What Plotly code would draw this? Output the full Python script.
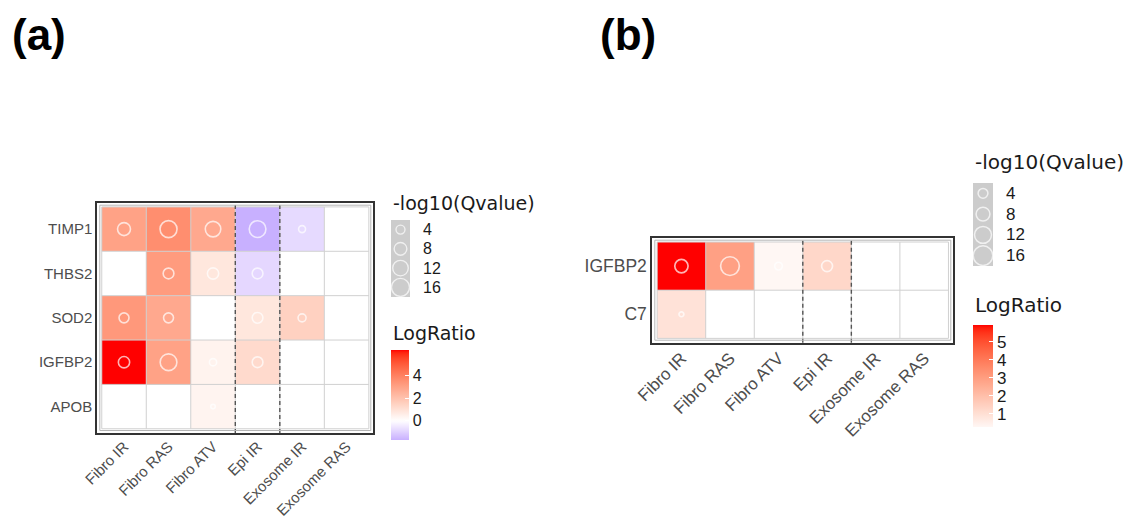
import math
import plotly.graph_objects as go

# ---------------- data ----------------
conditions = ["Fibro IR", "Fibro RAS", "Fibro ATV", "Epi IR", "Exosome IR", "Exosome RAS"]

genes_a = ["TIMP1", "THBS2", "SOD2", "IGFBP2", "APOB"]
nan = float("nan")
logratio_a = [
    [3.0, 3.6, 2.8, -1.7, -0.8, nan],
    [nan, 3.2, 0.8, -0.85, nan, nan],
    [3.3, 2.8, nan, 0.8, 1.5, nan],
    [6.25, 3.0, 0.4, 1.2, nan, nan],
    [nan, nan, 0.35, nan, nan, nan],
]
qval_a = [
    [8.3, 14.3, 11.9, 13.8, 2.4, nan],
    [nan, 5.7, 6.3, 5.7, nan, nan],
    [4.9, 4.9, nan, 5.7, 3.2, nan],
    [6.3, 13.8, 2.6, 5.7, nan, nan],
    [nan, nan, 1.0, nan, nan, nan],
]

genes_b = ["IGFBP2", "C7"]
logratio_b = [
    [5.94, 2.9, 0.25, 1.25, nan, nan],
    [0.9, nan, nan, nan, nan, nan],
]
qval_b = [
    [7.4, 14.6, 2.5, 5.0, nan, nan],
    [1.0, nan, nan, nan, nan, nan],
]

size_legend_vals = [4, 8, 12, 16]
ticks_a = [0, 2, 4]
ticks_b = [1, 2, 3, 4, 5]
dashed_after = [2, 3]  # dashed separators after these column indices

# ---------------- colour helpers (Lab interpolation like ggplot) ----------------
def hex2rgb(h):
    h = h.lstrip("#")
    return [int(h[i:i + 2], 16) for i in (0, 2, 4)]

def rgb2lab(rgb):
    def lin(c):
        c = c / 255.0
        return c / 12.92 if c <= 0.04045 else ((c + 0.055) / 1.055) ** 2.4
    r, g, b = [lin(c) for c in rgb]
    X = (0.4124 * r + 0.3576 * g + 0.1805 * b) / 0.95047
    Y = (0.2126 * r + 0.7152 * g + 0.0722 * b)
    Z = (0.0193 * r + 0.1192 * g + 0.9505 * b) / 1.08883
    f = lambda t: t ** (1 / 3) if t > 0.008856 else 7.787 * t + 16 / 116
    fx, fy, fz = f(X), f(Y), f(Z)
    return (116 * fy - 16, 500 * (fx - fy), 200 * (fy - fz))

def lab2hex(lab):
    L, a, b = lab
    fy = (L + 16) / 116
    fx = fy + a / 500
    fz = fy - b / 200
    finv = lambda t: t ** 3 if t ** 3 > 0.008856 else (t - 16 / 116) / 7.787
    X, Y, Z = 0.95047 * finv(fx), finv(fy), 1.08883 * finv(fz)
    r = 3.2406 * X - 1.5372 * Y - 0.4986 * Z
    g = -0.9689 * X + 1.8758 * Y + 0.0415 * Z
    bb = 0.0557 * X - 0.2040 * Y + 1.0570 * Z
    def gam(c):
        c = max(0.0, c)
        c = 12.92 * c if c <= 0.0031308 else 1.055 * c ** (1 / 2.4) - 0.055
        return max(0, min(255, round(c * 255)))
    return "#%02x%02x%02x" % (gam(r), gam(g), gam(bb))

def lab_mix(c1, c2, t):
    l1, l2 = rgb2lab(hex2rgb(c1)), rgb2lab(hex2rgb(c2))
    return lab2hex(tuple(l1[i] + (l2[i] - l1[i]) * t for i in range(3)))

WHITE, RED, LOW_END = "#ffffff", "#ff0000", "#c8b0ff"

def make_scale(vmin, vmax, n=40):
    stops = []
    for k in range(n + 1):
        v = vmin + (vmax - vmin) * k / n
        if v >= 0:
            col = lab_mix(WHITE, RED, v / vmax)
        else:
            col = lab_mix(WHITE, LOW_END, v / vmin)
        stops.append([k / n, col])
    return stops

def finite(vals):
    return [v for row in vals for v in row if not math.isnan(v)]

# ---------------- figure ----------------
W, H = 1148, 527
OFF = 8  # page body margin offset of the rendered figure
def px(x):
    return (x - OFF) / W
def py(y):
    return 1 - (y - OFF) / H

fig = go.Figure()
TICKFONT = dict(family="Liberation Sans, Arial", size=15, color="#4d4d4d")

def add_panel(fig, xa, ya, genes, lr, qv, dom_x, dom_y, kd, lw, cb, tickvals, tfs):
    vmin, vmax = min(finite(lr)), max(finite(lr))
    fig.add_trace(go.Heatmap(
        z=lr, x=list(range(len(conditions))), y=list(range(len(genes))),
        xaxis=xa, yaxis=ya, zmin=vmin, zmax=vmax,
        colorscale=make_scale(vmin, vmax), hoverongaps=False,
        colorbar=dict(
            x=px(cb[0]), xanchor="left", y=py(cb[1]), yanchor="top",
            len=cb[3] - cb[1], lenmode="pixels",
            thickness=cb[2] - cb[0], thicknessmode="pixels",
            outlinewidth=0, xpad=0, ypad=0,
            tickvals=tickvals, ticks="inside", ticklen=4, tickcolor="white",
            tickfont=dict(family="Liberation Sans, Arial", size=tfs, color="#1a1a1a"),
        ),
    ))
    xs, ys, ss = [], [], []
    for i, row in enumerate(qv):
        for j, q in enumerate(row):
            if not math.isnan(q):
                xs.append(j); ys.append(i); ss.append(kd * math.sqrt(q))
    fig.add_trace(go.Scatter(
        x=xs, y=ys, xaxis=xa, yaxis=ya, mode="markers", hoverinfo="skip",
        marker=dict(symbol="circle-open", size=ss, color="white", line=dict(width=lw, color="white")),
    ))
    nx, ny = len(conditions), len(genes)
    for j in range(nx + 1):
        fig.add_shape(type="line", xref=xa, yref=ya, x0=j - 0.5, x1=j - 0.5,
                      y0=-0.5, y1=ny - 0.5, line=dict(color="#d0d0d0", width=1), layer="above")
    for i in range(ny + 1):
        fig.add_shape(type="line", xref=xa, yref=ya, x0=-0.5, x1=nx - 0.5,
                      y0=i - 0.5, y1=i - 0.5, line=dict(color="#d0d0d0", width=1), layer="above")
    for j in dashed_after:
        fig.add_shape(type="line", xref=xa, yref=ya + " domain", x0=j + 0.5, x1=j + 0.5,
                      y0=0, y1=1, line=dict(color="#555555", width=1.4, dash="4px,3px"), layer="above")
    wpx = (dom_x[1] - dom_x[0]) * W
    hpx = (dom_y[1] - dom_y[0]) * H
    fig.add_shape(type="rect", xref=xa + " domain", yref=ya + " domain",
                  x0=2.5 / wpx, x1=1 - 2.5 / wpx, y0=2.5 / hpx, y1=1 - 2.5 / hpx,
                  line=dict(color="#b5b5b5", width=1), layer="above")


def size_legend(fig, xa, ya, kd, lw, fs):
    fig.add_shape(type="rect", xref=xa + " domain", yref=ya + " domain", x0=0, x1=1, y0=0, y1=1,
                  fillcolor="#cccccc", line=dict(width=0), layer="below")
    fig.add_trace(go.Scatter(
        x=[0] * len(size_legend_vals), y=list(range(len(size_legend_vals))),
        xaxis=xa, yaxis=ya, mode="markers", hoverinfo="skip",
        marker=dict(symbol="circle-open", size=[kd * math.sqrt(v) for v in size_legend_vals],
                    color="white", line=dict(width=lw, color="white")),
    ))
    for i, v in enumerate(size_legend_vals):
        fig.add_annotation(xref=xa + " domain", yref=ya,
                           x=1, y=i, xanchor="left", yanchor="middle", xshift=11,
                           text=str(v), showarrow=False,
                           font=dict(family="Liberation Sans, Arial", size=fs, color="#1a1a1a"))


dom_xa = [px(97.3), px(373.3)]
dom_ya = [py(433), py(202.7)]
add_panel(fig, "x", "y", genes_a, logratio_a, qval_a, dom_xa, dom_ya,
          4.5, 1.6, (391, 350, 409, 440), ticks_a, 16)
dom_xb = [px(652.3), px(953.3)]
dom_yb = [py(342.7), py(237.7)]
add_panel(fig, "x2", "y2", genes_b, logratio_b, qval_b, dom_xb, dom_yb,
          4.9, 1.7, (973, 325, 993, 427), ticks_b, 17)

size_legend(fig, "x3", "y3", 4.5, 1.4, 16)
size_legend(fig, "x4", "y4", 4.9, 1.5, 17)

ax_common = dict(showgrid=False, zeroline=False, showline=True, mirror=True, automargin=False,
                 linecolor="#333333", linewidth=2, ticks="")
hidden = dict(visible=False, automargin=False)
fig.update_layout(
    xaxis=dict(domain=dom_xa, range=[-0.6, 5.6], tickvals=list(range(len(conditions))),
               ticktext=conditions, tickfont=TICKFONT, anchor="y", tickangle=-45,
               ticklabelstandoff=-3, **ax_common),
    yaxis=dict(domain=dom_ya, range=[len(genes_a) - 0.405, -0.595], tickvals=list(range(len(genes_a))),
               ticktext=genes_a, tickfont=TICKFONT, anchor="x", **ax_common),
    xaxis2=dict(domain=dom_xb, range=[-0.6, 5.6], tickvals=list(range(len(conditions))),
                ticktext=conditions, tickfont=dict(TICKFONT, size=17), anchor="y2", tickangle=-45,
                ticklabelstandoff=-3, **ax_common),
    yaxis2=dict(domain=dom_yb, range=[len(genes_b) - 0.41, -0.59], tickvals=list(range(len(genes_b))),
                ticktext=genes_b, tickfont=dict(TICKFONT, size=17.5), anchor="x2", **ax_common),
    xaxis3=dict(domain=[px(391), px(410)], range=[-0.5, 0.5], anchor="y3", **hidden),
    yaxis3=dict(domain=[py(297), py(220)], range=[3.5, -0.5], anchor="x3", **hidden),
    xaxis4=dict(domain=[px(973), px(993)], range=[-0.5, 0.5], anchor="y4", **hidden),
    yaxis4=dict(domain=[py(266), py(183)], range=[3.5, -0.5], anchor="x4", **hidden),
    width=W, height=H, autosize=False,
    margin=dict(l=0, r=0, t=0, b=0, autoexpand=False),
    plot_bgcolor="white", paper_bgcolor="white",
    showlegend=False,
)

TITLEFONT = dict(family="DejaVu Sans", size=19, color="#1a1a1a")
for (x, y, txt, sz) in [(391, 203, "-log10(Qvalue)", 19), (391, 333, "LogRatio", 19),
                        (973, 162, "-log10(Qvalue)", 20), (973, 305, "LogRatio", 20)]:
    fig.add_annotation(xref="paper", yref="paper", x=px(x), y=py(y), xanchor="left", yanchor="middle",
                       text=txt, showarrow=False, font=dict(TITLEFONT, size=sz))

for (x, txt) in [(39, "(a)"), (628, "(b)")]:
    fig.add_annotation(xref="paper", yref="paper", x=px(x), y=1, xanchor="center", yanchor="top",
                       text="<b>%s</b>" % txt, showarrow=False,
                       font=dict(family="Liberation Sans, Arial", size=44, color="black"))

fig.write_html("out.html")
